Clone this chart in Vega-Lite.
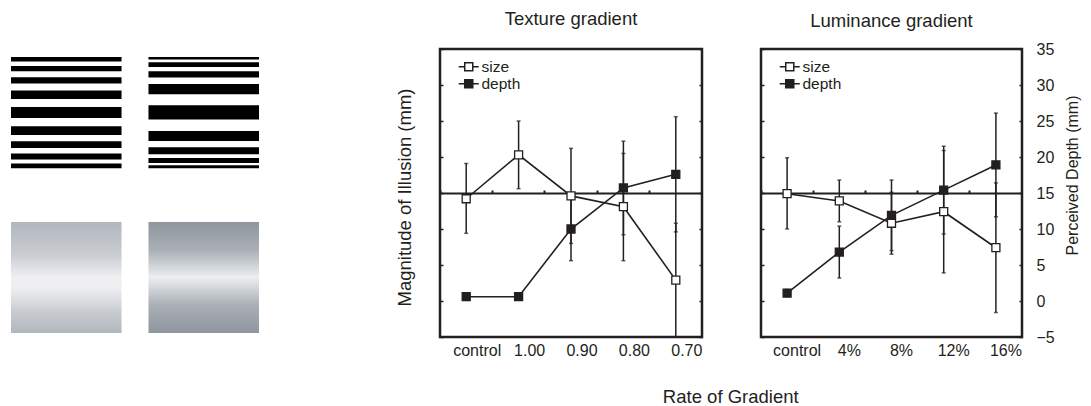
{
  "$schema": "https://vega.github.io/schema/vega-lite/v6.json",
  "padding": {"left": 11, "top": 8, "right": 0, "bottom": 0},
  "background": "white",
  "bounds": "flush",
  "spacing": 181,
  "config": {
    "font": "Liberation Sans",
    "view": {"stroke": "#231f20", "strokeWidth": 2.5},
    "axis": {"grid": false, "labelColor": "#231f20", "titleColor": "#231f20", "tickColor": "#231f20", "domainColor": "#231f20", "labelFont": "Liberation Sans", "titleFont": "Liberation Sans", "titleFontWeight": "normal"},
    "title": {"color": "#231f20", "fontWeight": "normal", "font": "Liberation Sans"},
    "legend": {"labelColor": "#231f20", "labelFont": "Liberation Sans"}
  },
  "datasets": {
    "stripes": [
      {"pattern": "A", "top": 0, "bottom": 4.6}, {"pattern": "A", "top": 9, "bottom": 14.3}, {"pattern": "A", "top": 20.3, "bottom": 26.6},
      {"pattern": "A", "top": 33.6, "bottom": 42}, {"pattern": "A", "top": 50, "bottom": 61}, {"pattern": "A", "top": 69.3, "bottom": 78},
      {"pattern": "A", "top": 84.3, "bottom": 91}, {"pattern": "A", "top": 96.6, "bottom": 102.6}, {"pattern": "A", "top": 106.6, "bottom": 111.3},
      {"pattern": "B", "top": 0, "bottom": 2.6}, {"pattern": "B", "top": 5.3, "bottom": 10}, {"pattern": "B", "top": 14.3, "bottom": 20.6},
      {"pattern": "B", "top": 27, "bottom": 37.3}, {"pattern": "B", "top": 48.3, "bottom": 62.6}, {"pattern": "B", "top": 74, "bottom": 84},
      {"pattern": "B", "top": 90.3, "bottom": 97.3}, {"pattern": "B", "top": 101, "bottom": 106}, {"pattern": "B", "top": 108.3, "bottom": 111.3}
    ],
    "gradients": [
      {"pattern": "A", "top": 165, "bottom": 276},
      {"pattern": "B", "top": 165, "bottom": 276}
    ],
    "texture": [
      {"rate": "control", "series": "size", "mean": 14.2, "lo": 9.4, "hi": 19.1},
      {"rate": "1.00", "series": "size", "mean": 20.3, "lo": 15.6, "hi": 25.0},
      {"rate": "0.90", "series": "size", "mean": 14.6, "lo": 8.0, "hi": 21.2},
      {"rate": "0.80", "series": "size", "mean": 13.1, "lo": 5.6, "hi": 20.5},
      {"rate": "0.70", "series": "size", "mean": 2.9, "lo": -5.0, "hi": 10.8},
      {"rate": "control", "series": "depth", "mean": 0.6, "lo": 0.1, "hi": 1.1},
      {"rate": "1.00", "series": "depth", "mean": 0.6, "lo": 0.1, "hi": 1.1},
      {"rate": "0.90", "series": "depth", "mean": 10.0, "lo": 5.6, "hi": 14.4},
      {"rate": "0.80", "series": "depth", "mean": 15.7, "lo": 9.2, "hi": 22.2},
      {"rate": "0.70", "series": "depth", "mean": 17.6, "lo": 9.6, "hi": 25.6}
    ],
    "luminance": [
      {"rate": "control", "series": "size", "mean": 14.9, "lo": 10.0, "hi": 19.9},
      {"rate": "4%", "series": "size", "mean": 13.9, "lo": 11.0, "hi": 16.8},
      {"rate": "8%", "series": "size", "mean": 10.8, "lo": 6.5, "hi": 15.1},
      {"rate": "12%", "series": "size", "mean": 12.4, "lo": 3.9, "hi": 20.9},
      {"rate": "16%", "series": "size", "mean": 7.4, "lo": -1.6, "hi": 16.4},
      {"rate": "control", "series": "depth", "mean": 1.1, "lo": 0.6, "hi": 1.6},
      {"rate": "4%", "series": "depth", "mean": 6.8, "lo": 3.2, "hi": 10.4},
      {"rate": "8%", "series": "depth", "mean": 11.9, "lo": 7.0, "hi": 16.8},
      {"rate": "12%", "series": "depth", "mean": 15.4, "lo": 9.3, "hi": 21.5},
      {"rate": "16%", "series": "depth", "mean": 18.9, "lo": 11.7, "hi": 26.1}
    ]
  },
  "hconcat": [
    {
      "width": 248,
      "height": 284,
      "view": {"stroke": null},
      "layer": [
        {
          "data": {"name": "stripes"},
          "mark": {"type": "rect", "color": "#000000"},
          "encoding": {
            "x": {"field": "pattern", "type": "nominal", "scale": {"type": "band", "paddingInner": 0.196, "paddingOuter": 0}, "axis": null},
            "y": {"field": "top", "type": "quantitative", "scale": {"domain": [-8, 276], "reverse": true, "nice": false, "zero": false}, "axis": null},
            "y2": {"field": "bottom"}
          }
        },
        {
          "data": {"name": "gradients"},
          "transform": [{"filter": "datum.pattern === 'A'"}],
          "mark": {"type": "rect", "color": {"gradient": "linear", "x1": 0, "y1": 0, "x2": 0, "y2": 1, "stops": [
            {"offset": 0, "color": "#b2b7be"}, {"offset": 0.3, "color": "#c9cdd2"}, {"offset": 0.5, "color": "#f0f0f2"},
            {"offset": 0.6, "color": "#eeeef0"}, {"offset": 0.8, "color": "#c9cdd2"}, {"offset": 1, "color": "#b2b7be"}]}},
          "encoding": {
            "x": {"field": "pattern", "type": "nominal", "axis": null},
            "y": {"field": "top", "type": "quantitative", "axis": null},
            "y2": {"field": "bottom"}
          }
        },
        {
          "data": {"name": "gradients"},
          "transform": [{"filter": "datum.pattern === 'B'"}],
          "mark": {"type": "rect", "color": {"gradient": "linear", "x1": 0, "y1": 0, "x2": 0, "y2": 1, "stops": [
            {"offset": 0, "color": "#8f969d"}, {"offset": 0.25, "color": "#a9afb5"}, {"offset": 0.5, "color": "#eceef0"},
            {"offset": 0.75, "color": "#a9afb5"}, {"offset": 1, "color": "#8f969d"}]}},
          "encoding": {
            "x": {"field": "pattern", "type": "nominal", "axis": null},
            "y": {"field": "top", "type": "quantitative", "axis": null},
            "y2": {"field": "bottom"}
          }
        }
      ]
    },
    {
      "bounds": "flush",
      "spacing": 59,
      "resolve": {"scale": {"fill": "independent"}, "legend": {"fill": "independent"}},
      "title": {"text": "Rate of Gradient", "orient": "bottom", "anchor": "middle", "frame": "bounds", "fontSize": 18.5, "offset": 29, "dx": -7},
      "hconcat": [
        {
          "width": 262,
          "height": 288,
          "title": {"text": "Texture gradient", "frame": "group", "anchor": "middle", "fontSize": 18.5, "offset": 20},
          "data": {"name": "texture"},
          "resolve": {"axis": {"x": "independent", "y": "independent"}},
          "layer": [
            {
              "mark": {"type": "errorbar", "thickness": 1.5, "color": "#231f20", "ticks": {"size": 4, "thickness": 1.5, "color": "#231f20"}},
              "encoding": {
                "x": {"field": "rate", "type": "nominal", "sort": ["control", "1.00", "0.90", "0.80", "0.70"], "scale": {"type": "band", "paddingInner": 0, "paddingOuter": 0}, "axis": null},
                "y": {"field": "lo", "type": "quantitative", "scale": {"domain": [-5, 35], "nice": false, "zero": false}, "axis": null},
                "y2": {"field": "hi"}
              }
            },
            {
              "mark": {"type": "line", "color": "#231f20", "strokeWidth": 1.6},
              "encoding": {
                "x": {"field": "rate", "type": "nominal", "sort": ["control", "1.00", "0.90", "0.80", "0.70"], "scale": {"type": "band", "paddingInner": 0, "paddingOuter": 0},
                  "axis": {"orient": "bottom", "offset": -144, "domain": true, "domainWidth": 2.2, "ticks": true, "tickSize": -3, "tickWidth": 2, "bandPosition": 0, "labels": false, "title": null}},
                "y": {"field": "mean", "type": "quantitative", "scale": {"domain": [-5, 35], "nice": false, "zero": false},
                  "axis": {"orient": "left", "domain": false, "ticks": true, "tickSize": -3, "tickWidth": 1.5, "labels": false, "values": [-5, 0, 5, 10, 15, 20, 25, 30, 35], "title": "Magnitude of Illusion (mm)", "titleFontSize": 18.5, "titlePadding": 25, "titleY": 148}},
                "detail": {"field": "series"}
              }
            },
            {
              "mark": {"type": "point", "shape": "square", "filled": true, "size": 64, "stroke": "#231f20", "strokeWidth": 1.3, "opacity": 1},
              "encoding": {
                "x": {"field": "rate", "type": "nominal", "sort": ["control", "1.00", "0.90", "0.80", "0.70"], "scale": {"type": "band", "paddingInner": 0, "paddingOuter": 0},
                  "axis": {"orient": "bottom", "domain": false, "ticks": false, "labelFontSize": 16, "labelPadding": 5, "labelOffset": 11, "labelAngle": 0, "title": null}},
                "y": {"field": "mean", "type": "quantitative", "scale": {"domain": [-5, 35], "nice": false, "zero": false},
                  "axis": {"orient": "right", "domain": false, "ticks": true, "tickSize": -3, "tickWidth": 1.5, "labels": false, "values": [-5, 0, 5, 10, 15, 20, 25, 30, 35], "title": null}},
                "fill": {"field": "series", "type": "nominal", "scale": {"domain": ["size", "depth"], "range": ["#ffffff", "#231f20"]},
                  "legend": {"title": null, "orient": "none", "legendX": 21, "legendY": 10, "padding": 0, "symbolType": "M-1.67,0H-0.67M0.67,0H1.67M-0.67,-0.67H0.67V0.67H-0.67Z", "symbolSize": 144, "symbolStrokeColor": "#231f20", "symbolStrokeWidth": 1.5, "labelFontSize": 15.5, "labelOffset": 5, "rowPadding": -3}}
              }
            }
          ]
        },
        {
          "width": 261,
          "height": 288,
          "title": {"text": "Luminance gradient", "frame": "group", "anchor": "middle", "fontSize": 18.5, "offset": 11},
          "data": {"name": "luminance"},
          "resolve": {"axis": {"x": "independent", "y": "independent"}},
          "layer": [
            {
              "mark": {"type": "errorbar", "thickness": 1.5, "color": "#231f20", "ticks": {"size": 4, "thickness": 1.5, "color": "#231f20"}},
              "encoding": {
                "x": {"field": "rate", "type": "nominal", "sort": ["control", "4%", "8%", "12%", "16%"], "scale": {"type": "band", "paddingInner": 0, "paddingOuter": 0}, "axis": null},
                "y": {"field": "lo", "type": "quantitative", "scale": {"domain": [-5, 35], "nice": false, "zero": false}, "axis": null},
                "y2": {"field": "hi"}
              }
            },
            {
              "mark": {"type": "line", "color": "#231f20", "strokeWidth": 1.6},
              "encoding": {
                "x": {"field": "rate", "type": "nominal", "sort": ["control", "4%", "8%", "12%", "16%"], "scale": {"type": "band", "paddingInner": 0, "paddingOuter": 0},
                  "axis": {"orient": "bottom", "offset": -144, "domain": true, "domainWidth": 2.2, "ticks": true, "tickSize": -3, "tickWidth": 2, "bandPosition": 0, "labels": false, "title": null}},
                "y": {"field": "mean", "type": "quantitative", "scale": {"domain": [-5, 35], "nice": false, "zero": false},
                  "axis": {"orient": "left", "domain": false, "ticks": true, "tickSize": -3, "tickWidth": 1.5, "labels": false, "values": [-5, 0, 5, 10, 15, 20, 25, 30, 35], "title": null}},
                "detail": {"field": "series"}
              }
            },
            {
              "mark": {"type": "point", "shape": "square", "filled": true, "size": 64, "stroke": "#231f20", "strokeWidth": 1.3, "opacity": 1},
              "encoding": {
                "x": {"field": "rate", "type": "nominal", "sort": ["control", "4%", "8%", "12%", "16%"], "scale": {"type": "band", "paddingInner": 0, "paddingOuter": 0},
                  "axis": {"orient": "bottom", "domain": false, "ticks": false, "labelFontSize": 16, "labelPadding": 5, "labelOffset": 10, "labelAngle": 0, "title": null}},
                "y": {"field": "mean", "type": "quantitative", "scale": {"domain": [-5, 35], "nice": false, "zero": false},
                  "axis": {"orient": "right", "domain": false, "ticks": true, "tickSize": -3, "tickWidth": 1.5, "labels": true, "labelFontSize": 16, "labelPadding": 17, "values": [-5, 0, 5, 10, 15, 20, 25, 30, 35], "title": "Perceived Depth (mm)", "titleFontSize": 16, "titleAngle": 270, "titleBaseline": "top", "titlePadding": 10, "titleY": 126}},
                "fill": {"field": "series", "type": "nominal", "scale": {"domain": ["size", "depth"], "range": ["#ffffff", "#231f20"]},
                  "legend": {"title": null, "orient": "none", "legendX": 21, "legendY": 10, "padding": 0, "symbolType": "M-1.67,0H-0.67M0.67,0H1.67M-0.67,-0.67H0.67V0.67H-0.67Z", "symbolSize": 144, "symbolStrokeColor": "#231f20", "symbolStrokeWidth": 1.5, "labelFontSize": 15.5, "labelOffset": 5, "rowPadding": -3}}
              }
            }
          ]
        }
      ]
    }
  ]
}
